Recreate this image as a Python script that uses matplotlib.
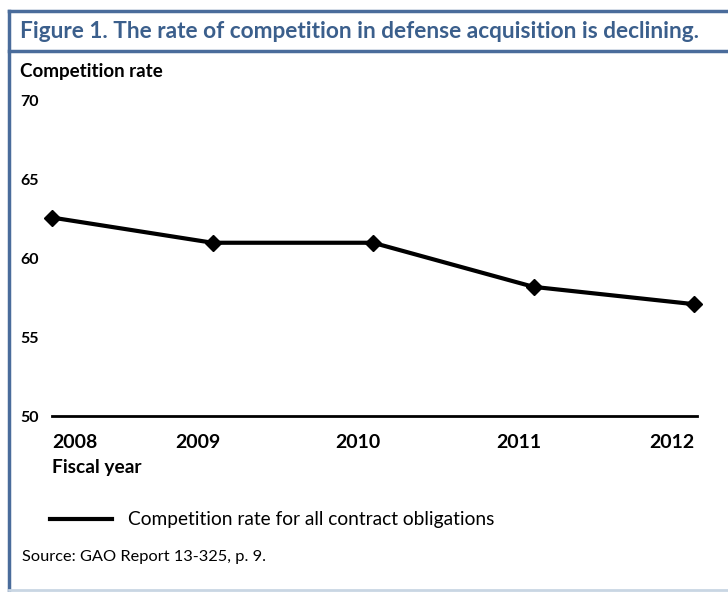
import matplotlib.pyplot as plt
from matplotlib.lines import Line2D
from matplotlib.transforms import ScaledTranslation

years = [2008, 2009, 2010, 2011, 2012]
rates = [62.6, 61.0, 61.0, 58.2, 57.1]
yticks = [50, 55, 60, 65, 70]

title = "Figure 1. The rate of competition in defense acquisition is declining."
legend_label = "Competition rate for all contract obligations"
source = "Source: GAO Report 13-325, p. 9."

plt.rcParams["font.family"] = ["Lato", "DejaVu Sans"]
frame_blue = "#4a6c9b"
title_blue = "#3b5f8c"

fig = plt.figure(figsize=(7.28, 5.92), dpi=100)

# frame: left border, top border, title separator, faint bottom
fig.add_artist(Line2D([9 / 728, 9 / 728], [1 - 11 / 592, 0], color=frame_blue, lw=2.5))
fig.add_artist(Line2D([9 / 728, 1], [1 - 11 / 592, 1 - 11 / 592], color=frame_blue, lw=2.5))
fig.add_artist(Line2D([9 / 728, 1], [1 - 51 / 592, 1 - 51 / 592], color=frame_blue, lw=2.5))
fig.add_artist(Line2D([9 / 728, 1], [1 - 590 / 592, 1 - 590 / 592], color="#c9d6e3", lw=2))

fig.text(20 / 728, 1 - 32 / 592, title, color=title_blue, fontsize=16.3,
         fontweight="bold", va="center", ha="left")
fig.text(20 / 728, 1 - 72 / 592, "Competition rate", fontsize=13.5,
         fontweight="bold", va="center", ha="left")

ax = fig.add_axes([52 / 728, 1 - 416 / 592, 645 / 728, 315 / 592])
ax.plot(years, rates, color="black", lw=3, marker="D", markersize=8, clip_on=False)
ax.set_xlim(2008, 2008 + 645 / 160.5)
ax.set_ylim(50, 70)
ax.set_yticks(yticks)
ax.set_yticklabels([str(v) for v in yticks], fontweight="bold", fontsize=11.5, ha="left")
ax.tick_params(axis="y", length=0, pad=23)
ax.set_xticks(years)
ax.set_xticklabels([str(y) for y in years], fontweight="bold", fontsize=14)
ax.tick_params(axis="x", length=0, pad=13)
xlabels = ax.get_xticklabels()
xlabels[0].set_ha("left")
xlabels[-1].set_ha("right")
for lab in xlabels[1:-1]:
    lab.set_transform(lab.get_transform() + ScaledTranslation(-0.15, 0, fig.dpi_scale_trans))
for s in ["top", "right", "left"]:
    ax.spines[s].set_visible(False)
ax.spines["bottom"].set_linewidth(2)

fig.text(52 / 728, 1 - 467 / 592, "Fiscal year", fontsize=13.8,
         fontweight="bold", va="center", ha="left")

fig.add_artist(Line2D([50 / 728, 112 / 728], [1 - 519 / 592, 1 - 519 / 592],
                      color="black", lw=3))
fig.text(128 / 728, 1 - 519 / 592, legend_label, fontsize=13.8, va="center", ha="left")
fig.text(22 / 728, 1 - 557 / 592, source, fontsize=11.8, va="center", ha="left")

fig.savefig("out.png", dpi=100)
